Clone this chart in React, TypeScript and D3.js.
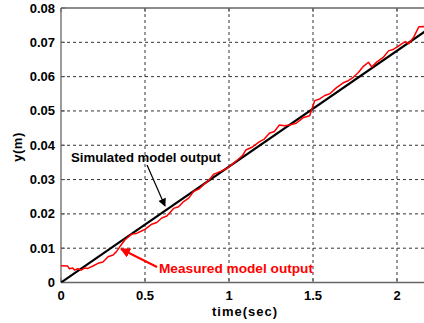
import React from "react";
import * as d3 from "d3";

const xTicks = [0, 0.5, 1, 1.5, 2];
const xTickLabels = ["0", "0.5", "1", "1.5", "2"];
const yTicks = [0, 0.01, 0.02, 0.03, 0.04, 0.05, 0.06, 0.07, 0.08];
const yTickLabels = ["0", "0.01", "0.02", "0.03", "0.04", "0.05", "0.06", "0.07", "0.08"];

const simT = [0, 2.2];
const simY = [0, 0.0743];

const measT = [0, 0.04, 0.05, 0.07, 0.08, 0.1, 0.12, 0.14, 0.16, 0.19, 0.22, 0.25, 0.28, 0.31, 0.33, 0.35, 0.38, 0.42, 0.45, 0.47, 0.5, 0.54, 0.57, 0.6, 0.63, 0.67, 0.7, 0.73, 0.76, 0.79, 0.82, 0.85, 0.88, 0.91, 0.95, 0.99, 1.02, 1.05, 1.08, 1.1, 1.14, 1.18, 1.21, 1.24, 1.27, 1.3, 1.33, 1.36, 1.4, 1.44, 1.48, 1.51, 1.54, 1.57, 1.6, 1.64, 1.68, 1.71, 1.74, 1.77, 1.8, 1.83, 1.85, 1.88, 1.92, 1.95, 1.98, 2.0, 2.03, 2.05, 2.07, 2.1, 2.13, 2.16, 2.2];
const measY = [0.0049, 0.0048, 0.0040, 0.0042, 0.0036, 0.0040, 0.0036, 0.0042, 0.0041, 0.0048, 0.0056, 0.0060, 0.0075, 0.0080, 0.0090, 0.0104, 0.0124, 0.0141, 0.0143, 0.0148, 0.0155, 0.0170, 0.0175, 0.0188, 0.0194, 0.0216, 0.0221, 0.0236, 0.0246, 0.0266, 0.0272, 0.0286, 0.0298, 0.0316, 0.0324, 0.0333, 0.0345, 0.0357, 0.0370, 0.0386, 0.0395, 0.0410, 0.0418, 0.0435, 0.0440, 0.0459, 0.0457, 0.0459, 0.0464, 0.0480, 0.0486, 0.0530, 0.0535, 0.0545, 0.0550, 0.0568, 0.0582, 0.0588, 0.0598, 0.0612, 0.0630, 0.0642, 0.0628, 0.0643, 0.0657, 0.0675, 0.0680, 0.0686, 0.0696, 0.0702, 0.0696, 0.0716, 0.0745, 0.0746, 0.0735];

const W = 424;
const H = 323;
const left = 61;
const top = 8;
const bottom = 282.5;

export default function App() {
  const x = d3.scaleLinear().domain([0, 2]).range([left, 397]);
  const y = d3.scaleLinear().domain([0, 0.08]).range([bottom, top]);
  const xMax = x(2.2);
  const simPath = d3.line<number>().x((d) => x(d)).y((_, i) => y(simY[i]))(simT) || "";
  const measPath = d3.line<number>().x((d) => x(d)).y((_, i) => y(measY[i]))(measT) || "";
  const font = "'Liberation Sans', Arial, sans-serif";

  return (
    <svg width={W} height={H} style={{ position: "absolute", left: 0, top: 0, background: "#fff" }}>
      <defs>
        <clipPath id="plot">
          <rect x={left} y={top} width={xMax - left} height={bottom - top} />
        </clipPath>
        <marker id="ab" viewBox="0 0 10 10" refX="9" refY="5" markerWidth="9" markerHeight="8" orient="auto" markerUnits="userSpaceOnUse">
          <path d="M0,0 L10,5 L0,10 z" fill="#000" />
        </marker>
        <marker id="ar" viewBox="0 0 10 10" refX="9" refY="5" markerWidth="10" markerHeight="10" orient="auto" markerUnits="userSpaceOnUse">
          <path d="M0,0 L10,5 L0,10 z" fill="#f00" />
        </marker>
      </defs>
      <rect x={0} y={0} width={W} height={H} fill="#fff" />
      {xTicks.slice(1).map((t) => (
        <line key={"gx" + t} x1={x(t)} x2={x(t)} y1={top} y2={bottom} stroke="#333" strokeWidth={1} strokeDasharray="3,3" />
      ))}
      {yTicks.slice(1, -1).map((t) => (
        <line key={"gy" + t} x1={left} x2={xMax} y1={y(t)} y2={y(t)} stroke="#333" strokeWidth={1} strokeDasharray="3,3" />
      ))}
      {xTicks.map((t) => (
        <g key={"tx" + t}>
          <line x1={x(t)} x2={x(t)} y1={bottom} y2={bottom - 4} stroke="#555" />
          <line x1={x(t)} x2={x(t)} y1={top} y2={top + 4} stroke="#555" />
        </g>
      ))}
      {yTicks.map((t) => (
        <line key={"ty" + t} x1={left} x2={left + 4} y1={y(t)} y2={y(t)} stroke="#555" />
      ))}
      <line x1={left} x2={W} y1={top} y2={top} stroke="#666" strokeWidth={1.3} />
      <line x1={left} x2={W} y1={bottom} y2={bottom} stroke="#666" strokeWidth={1.3} />
      <line x1={left} x2={left} y1={top} y2={bottom} stroke="#666" strokeWidth={1.3} />
      <g clipPath="url(#plot)">
        <path d={simPath} fill="none" stroke="#000" strokeWidth={2.2} />
        <path d={measPath} fill="none" stroke="#f00" strokeWidth={1.5} strokeLinejoin="round" />
      </g>
      {yTicks.map((t, i) => (
        <text key={"ly" + t} x={55} y={y(t) + 4.5} textAnchor="end" fontFamily={font} fontWeight="bold" fontSize={13} fill="#000">
          {yTickLabels[i]}
        </text>
      ))}
      {xTicks.map((t, i) => (
        <text key={"lx" + t} x={x(t)} y={300} textAnchor="middle" fontFamily={font} fontWeight="bold" fontSize={13} fill="#000">
          {xTickLabels[i]}
        </text>
      ))}
      <text x={245} y={316} textAnchor="middle" fontFamily={font} fontWeight="bold" fontSize={13} letterSpacing={1} fill="#000">
        time(sec)
      </text>
      <text transform="translate(22,147) rotate(-90)" textAnchor="middle" fontFamily={font} fontWeight="bold" fontSize={13} letterSpacing={0.5} fill="#000">
        y(m)
      </text>
      <text x={71} y={162} fontFamily={font} fontWeight="bold" fontSize={12.5} fill="#000" textLength={150} lengthAdjust="spacingAndGlyphs">
        Simulated model output
      </text>
      <path d="M147,165 Q155,183 165,206" fill="none" stroke="#000" strokeWidth={1.2} markerEnd="url(#ab)" />
      <text x={159} y={273} fontFamily={font} fontWeight="bold" fontSize={12.5} fill="#f00" textLength={154} lengthAdjust="spacingAndGlyphs">
        Measured model output
      </text>
      <line x1={157} y1={267} x2={121} y2={249} stroke="#f00" strokeWidth={2} markerEnd="url(#ar)" />
    </svg>
  );
}
